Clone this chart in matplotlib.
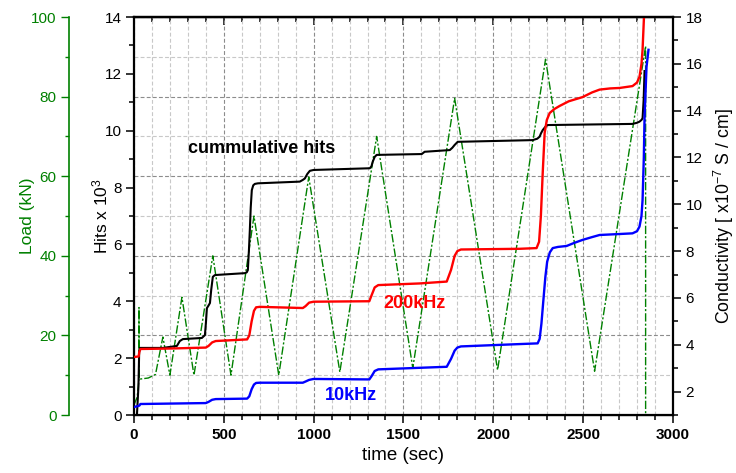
import matplotlib
matplotlib.use("Agg")
import matplotlib.pyplot as plt
from matplotlib.ticker import MultipleLocator

plt.rcParams['font.family'] = ['Liberation Sans', 'DejaVu Sans']
plt.rcParams['mathtext.fontset'] = 'custom'
plt.rcParams['mathtext.rm'] = 'Liberation Sans'
plt.rcParams['mathtext.it'] = 'Liberation Sans:italic'

# Load (kN), green, thin dash-dot
load_t = [0, 18, 27, 28, 29, 80, 120, 161, 200, 267, 334, 439, 540, 668, 806, 973,
          1146, 1351, 1552, 1785, 2024, 2291, 2564, 2848, 2848]
load_kn = [2.5, 4.5, 8.5, 27, 9, 9.3, 10.2, 19.6, 10, 29.6, 10, 40, 10, 50, 10, 59.8,
           10.8, 70, 11.8, 79.6, 11.3, 89.4, 11, 92.7, 0]

# cumulative hits (x 10^3)
hits_t = [17, 25, 29, 33, 161, 239, 255, 272, 378, 395, 400, 406, 415, 423, 430, 439,
          450, 467, 617, 628, 634, 640, 645, 650, 656, 664, 673, 690, 923, 940, 951,
          965, 979, 1000, 1313, 1322, 1329, 1340, 1351, 1602, 1618, 1758, 1772, 1785,
          1802, 2219, 2245, 2258, 2265, 2275, 2290, 2302, 2775, 2800, 2814, 2825,
          2831, 2837, 2842]
hits_k = [0.05, 1.0, 2.2, 2.36, 2.36, 2.43, 2.6, 2.67, 2.71, 2.81, 3.2, 3.76, 3.85,
          3.94, 4.4, 4.86, 4.92, 4.93, 4.99, 5.02, 5.1, 5.8, 6.5, 7.3, 7.91, 8.08, 8.13,
          8.15, 8.21, 8.27, 8.32, 8.48, 8.59, 8.62, 8.68, 8.75, 8.91, 9.08, 9.15, 9.18,
          9.26, 9.32, 9.4, 9.5, 9.61, 9.67, 9.72, 9.79, 9.9, 10.02, 10.14, 10.2, 10.24,
          10.28, 10.32, 10.38, 10.44, 11.08, 12.1]

# conductivity 200kHz (x10^-7 S/cm)
c200_t = [0, 26, 30, 36, 200, 400, 415, 435, 455, 630, 642, 655, 668, 680, 700, 940,
          955, 975, 1000, 1310, 1322, 1340, 1360, 1591, 1741, 1765, 1785, 1800, 1820,
          2147, 2241, 2255, 2265, 2275, 2286, 2298, 2314, 2340, 2369, 2420, 2497, 2550,
          2592, 2650, 2703, 2775, 2800, 2814, 2825, 2831, 2840]
c200 = [3.48, 3.5, 3.7, 3.82, 3.84, 3.88, 3.95, 4.1, 4.16, 4.23, 4.4, 5.0, 5.45, 5.6,
        5.62, 5.57, 5.65, 5.8, 5.84, 5.86, 6.1, 6.45, 6.55, 6.62, 6.7, 7.2, 7.8, 8.0,
        8.07, 8.1, 8.13, 8.4, 9.5, 11.3, 13.05, 13.6, 13.9, 14.07, 14.2, 14.4, 14.58,
        14.78, 14.9, 14.95, 14.97, 15.05, 15.2, 15.45, 16.0, 16.6, 18.2]

# conductivity 10kHz
c10_t = [0, 30, 36, 400, 415, 435, 455, 630, 642, 655, 668, 680, 700, 940, 955, 975,
         1000, 1310, 1322, 1340, 1360, 1741, 1765, 1785, 1800, 1820, 2147, 2247, 2258,
         2268, 2280, 2290, 2300, 2315, 2331, 2360, 2408, 2450, 2497, 2550, 2592, 2700,
         2775, 2800, 2814, 2825, 2831, 2838, 2842, 2853, 2864]
c10 = [1.34, 1.4, 1.47, 1.51, 1.56, 1.65, 1.68, 1.7, 1.8, 2.1, 2.3, 2.37, 2.38, 2.38,
       2.43, 2.5, 2.54, 2.52, 2.65, 2.88, 2.95, 3.06, 3.4, 3.75, 3.88, 3.93, 4.03, 4.06,
       4.25, 4.9, 6.0, 6.9, 7.55, 7.95, 8.13, 8.18, 8.22, 8.35, 8.48, 8.6, 8.69, 8.73,
       8.76, 8.85, 9.05, 9.5, 10.18, 12.0, 13.7, 15.87, 16.6]

green = '#008000'

fig = plt.figure(figsize=(7.36, 4.73), dpi=100)
host = fig.add_axes([0.182, 0.1226, 0.7323, 0.8414])

# host = load axis (owns the grid and the x axis)
host.set_xlim(0, 3000)
host.set_ylim(0, 100)
host.xaxis.set_major_locator(MultipleLocator(500))
host.xaxis.set_minor_locator(MultipleLocator(100))
host.yaxis.set_major_locator(MultipleLocator(20))
host.yaxis.set_minor_locator(MultipleLocator(10))
host.grid(which='major', color='#8c8c8c', ls=(0, (3.5, 2)), lw=0.8)
host.grid(which='minor', color='#c8c8c8', ls=(0, (3.5, 2)), lw=0.8)
host.set_axisbelow(True)
host.spines['left'].set_position(('axes', -0.1206))
host.spines['left'].set_color(green)
host.spines['left'].set_linewidth(1.2)
host.spines['right'].set_visible(False)
host.spines['bottom'].set_linewidth(1.6)
host.spines['top'].set_linewidth(1.6)
host.tick_params(axis='y', which='both', colors=green, labelsize=11, width=1)
host.tick_params(axis='y', which='major', length=5.5)
host.tick_params(axis='y', which='minor', length=3)
host.tick_params(axis='x', which='both', direction='out', width=1.1, labelsize=11)
host.tick_params(axis='x', which='major', length=5.5)
host.tick_params(axis='x', which='minor', length=3.5)
for lab in host.get_xticklabels():
    lab.set_fontweight('bold')
host.set_xlabel('time (sec)', fontsize=13.5, labelpad=4)
host.set_ylabel('Load (kN)', fontsize=12.5, color=green, labelpad=-3)
host.plot(load_t, load_kn, color=green, lw=1.0, ls=(0, (6, 1.5, 1.5, 1.5)))

top = host.secondary_xaxis('top')
top.xaxis.set_major_locator(MultipleLocator(500))
top.xaxis.set_minor_locator(MultipleLocator(100))
top.tick_params(which='both', direction='in', labeltop=False, width=1.1)
top.tick_params(which='major', length=5.5)
top.tick_params(which='minor', length=3.5)
top.spines['top'].set_linewidth(1.6)

# hits axis
ax_h = host.twinx()
ax_h.yaxis.tick_left()
ax_h.yaxis.set_label_position('left')
ax_h.spines['right'].set_visible(False)
ax_h.spines['left'].set_linewidth(1.6)
ax_h.set_ylim(0, 14)
ax_h.yaxis.set_major_locator(MultipleLocator(2))
ax_h.yaxis.set_minor_locator(MultipleLocator(1))
ax_h.tick_params(axis='y', which='both', labelsize=11, width=1.1)
ax_h.tick_params(axis='y', which='major', length=5.5)
ax_h.tick_params(axis='y', which='minor', length=3.5)
ax_h.set_ylabel('Hits x 10$^3$', fontsize=12.5, labelpad=-4)
ax_h.plot(hits_t, hits_k, color='black', lw=1.5)
ax_h.text(712, 9.39, 'cummulative hits', fontsize=13, fontweight='bold',
          ha='center', va='center')

# conductivity axis
ax_c = host.twinx()
ax_c.spines['left'].set_visible(False)
ax_c.spines['right'].set_linewidth(1.6)
ax_c.set_ylim(1, 18)
ax_c.yaxis.set_major_locator(MultipleLocator(2))
ax_c.yaxis.set_minor_locator(MultipleLocator(1))
ax_c.tick_params(axis='y', which='both', labelsize=11, width=1.1)
ax_c.tick_params(axis='y', which='major', length=5.5)
ax_c.tick_params(axis='y', which='minor', length=3.5)
ax_c.set_ylabel('Conductivity [ x10$^{-7}$ S / cm]', fontsize=12.8, labelpad=7)
ax_c.plot(c200_t, c200, color='#ff0000', lw=1.7)
ax_c.plot(c10_t, c10, color='#0000ff', lw=1.7)
ax_c.text(1560, 5.78, '200kHz', fontsize=13, fontweight='bold', color='#ff0000',
          ha='center', va='center')
ax_c.text(1207, 1.85, '10kHz', fontsize=13, fontweight='bold', color='#0000ff',
          ha='center', va='center')

fig.savefig('out.png', dpi=100)
